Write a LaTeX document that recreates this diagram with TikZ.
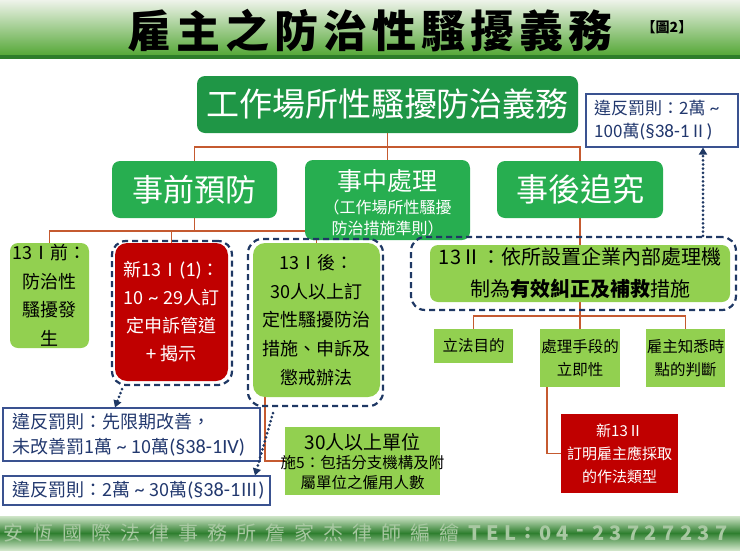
\documentclass[tikz,border=0pt]{standalone}
\usepackage{fontspec}
\setmainfont{Noto Sans CJK TC}
\newfontfamily\latfont[Scale=1.12]{Carlito}
\newcommand\latn[1]{{\latfont #1}}
\usetikzlibrary{arrows.meta,backgrounds}
\definecolor{topg}{HTML}{1F9646}
\definecolor{midg}{HTML}{27AE50}
\definecolor{lightg}{HTML}{92D050}
\definecolor{darkred}{HTML}{C00000}
\definecolor{navy}{HTML}{1F3864}
\definecolor{pentext}{HTML}{22386E}
\definecolor{penedge}{HTML}{3A5290}
\definecolor{conn}{HTML}{C55A30}
\definecolor{titletop}{HTML}{EEF3EA}
\definecolor{titlebot}{HTML}{56A838}
\definecolor{titleline}{HTML}{2E7D2A}
\definecolor{footlight}{HTML}{CFE5C8}
\definecolor{footdark}{HTML}{2F7F2F}
\definecolor{foottext}{HTML}{A8C8A2}
\tikzset{
  rbox/.style={rounded corners=8pt, inner sep=0pt, align=center},
  sbox/.style={inner sep=0pt, align=center},
  penbox/.style={draw=penedge, line width=1.1pt, fill=white, inner sep=0pt},
  pentxt/.style={anchor=west, inner sep=0pt, text=pentext, align=left},
  dashframe/.style={draw=navy, line width=2.2pt, dash pattern=on 6pt off 4pt, rounded corners=14pt, inner sep=0pt},
  connline/.style={draw=conn, line width=1.3pt},
  dotarr/.style={draw=navy, line width=3pt, dash pattern=on 0pt off 4.2pt, line cap=round, -{Triangle[length=7pt,width=8pt]}},
}
\begin{document}
\begin{tikzpicture}[x=1pt,y=-1pt]
\useasboundingbox (0,0) rectangle (740,555);
% title bar
\shade[top color=titletop, bottom color=titlebot] (0,0) rectangle (740,55);
\fill[titleline] (0,55) rectangle (740,59);
\foreach \c [count=\i from 0] in {雇,主,之,防,治,性,騷,擾,義,務}
  \node[font=\bfseries\fontsize{44}{44}\selectfont, inner sep=0pt] (t\i) at (149.5+49*\i,31) {\c};
\node[font=\bfseries\fontsize{14}{14}\selectfont, inner sep=0pt] (fig) at (667,27) {【圖2】};
% footer bar
\shade[top color=footlight, bottom color=footlight, middle color=footdark] (0,516) rectangle (740,550);
\foreach \c [count=\i from 0] in {安,恆,國,際,法,律,事,務,所,詹,家,杰,律,師,編,繪}
  \node[font=\fontsize{20}{20}\selectfont, text=foottext, inner sep=0pt] (f\i) at (14+29*\i,533) {\c};
\foreach \c [count=\i from 0] in {T,E,L,:,0,4,-,2,3,7,2,7,2,3,7}
  \node[font=\bfseries\fontsize{20}{20}\selectfont, text=foottext, inner sep=0pt] (g\i) at (475+17.6*\i,533) {\c};
% level 1
\node[rbox, fill=topg, text=white, minimum width=381pt, minimum height=57pt, font=\fontsize{33}{33}\selectfont] (top) at (387.5,104.5) {工作場所性騷擾防治義務};
\node[penbox, minimum width=152pt, minimum height=53pt] (pen0) at (662,120.5) {};
\node[pentxt, font=\fontsize{17}{23}\selectfont] (pen0t) at (594,120.5) {違反罰則：2萬\latn{ \textasciitilde}\\100萬\latn{(§38-1}Ⅱ\latn{)}};
% level 2
\node[rbox, fill=midg, text=white, minimum width=165pt, minimum height=57pt, font=\fontsize{31}{31}\selectfont] (pre) at (194.5,189.5) {事前預防};
\node[rbox, fill=midg, minimum width=165pt, minimum height=80pt] (mid) at (387.5,200) {};
\node[text=white, inner sep=0pt, font=\fontsize{25}{25}\selectfont] (midt1) at (387.5,181) {事中處理};
\node[text=white, inner sep=0pt, font=\fontsize{16}{16}\selectfont] (midt2) at (387.5,207) {（工作場所性騷擾};
\node[text=white, inner sep=0pt, font=\fontsize{16}{16}\selectfont] (midt3) at (387.5,228) {防治措施準則）};
\node[rbox, fill=midg, text=white, minimum width=166pt, minimum height=57pt, font=\fontsize{32}{32}\selectfont] (post) at (580,189.5) {事後追究};
% level 3
\node[rbox, fill=lightg, minimum width=79pt, minimum height=105pt, font=\fontsize{18}{28.5}\selectfont] (a13) at (49.5,295.5) {13Ⅰ前：\\防治性\\騷擾發\\生};
\node[rbox, fill=darkred, text=white, minimum width=113pt, minimum height=138pt, rounded corners=12pt, font=\fontsize{18}{28}\selectfont] (red1) at (171.5,312) {新13Ⅰ\latn{(1)}：\\10\latn{ \textasciitilde{} }29人訂\\定申訴管道\\\latn{+ }揭示};
\node[dashframe, minimum width=120pt, minimum height=144pt] (d1) at (172,313) {};
\node[rbox, fill=lightg, minimum width=127pt, minimum height=154pt, rounded corners=12pt, font=\fontsize{18}{28.75}\selectfont] (b13) at (316.5,320) {13Ⅰ後：\\30人以上訂\\定性騷擾防治\\措施、申訴及\\懲戒辦法};
\node[dashframe, minimum width=135pt, minimum height=167pt] (d2) at (315.5,322.5) {};
\node[rbox, fill=lightg, minimum width=300pt, minimum height=57pt, font=\fontsize{20}{32}\selectfont] (c13) at (580,273.5) {13Ⅱ：依所設置企業內部處理機\\制為{\bfseries 有效糾正及補救}措施};
\node[dashframe, minimum width=325pt, minimum height=73pt] (d3) at (573.5,273.5) {};
% level 4
\node[sbox, fill=lightg, minimum width=79pt, minimum height=34pt, font=\fontsize{15.5}{23}\selectfont] (s1) at (473.5,346) {立法目的};
\node[sbox, fill=lightg, minimum width=80pt, minimum height=58pt, font=\fontsize{15.5}{23}\selectfont] (s2) at (580,358) {處理手段的\\立即性};
\node[sbox, fill=lightg, minimum width=79pt, minimum height=58pt, font=\fontsize{15.5}{23}\selectfont] (s3) at (685.5,358) {雇主知悉時\\點的判斷};
\node[sbox, fill=darkred, text=white, minimum width=117pt, minimum height=79pt, font=\fontsize{15}{23}\selectfont] (red2) at (619.5,453.5) {新13Ⅱ\\訂明雇主應採取\\的作法類型};
% penalties and 30 persons
\node[penbox, minimum width=257pt, minimum height=53pt] (pen1) at (131.5,434.5) {};
\node[pentxt, font=\fontsize{18}{25}\selectfont] (pen1t) at (12,434.5) {違反罰則：先限期改善，\\未改善罰1萬\latn{ \textasciitilde{} }10萬\latn{(§38-1IV)}};
\node[penbox, minimum width=267pt, minimum height=29pt] (pen2) at (136.5,490.5) {};
\node[pentxt, font=\fontsize{18}{25}\selectfont] (pen2t) at (12,490.5) {違反罰則：2萬\latn{ \textasciitilde{} }30萬\latn{(§38-1}Ⅲ\latn{)}};
\node[sbox, fill=lightg, minimum width=155pt, minimum height=68pt] (b30) at (362.5,461) {};
\node[inner sep=0pt, font=\fontsize{19}{19}\selectfont] (b30t1) at (362.5,442) {30人以上單位};
\node[inner sep=0pt, font=\fontsize{15.5}{15.5}\selectfont] (b30t2) at (362.5,463) {施5：包括分支機構及附};
\node[inner sep=0pt, font=\fontsize{15.5}{15.5}\selectfont] (b30t3) at (362.5,483) {屬單位之僱用人數};
% connectors
\begin{scope}[on background layer]
\coordinate (j1) at (387.5,147);
\draw[connline] (pre.north) |- (j1) -| (post.north);
\draw[connline] (top.south) -- (mid.north);
\coordinate (j2) at (194.5,231);
\draw[connline] (pre.south) -- (j2);
\draw[connline] (a13.north) |- (j2) -| (b13.north);
\draw[connline] (red1.north) -- (red1.north |- j2);
\draw[connline] (post.south) -- (post.south |- c13.north);
\coordinate (j3) at (580,316);
\draw[connline] (c13.south) -- (j3);
\draw[connline] (s1.north) |- (j3) -| (s3.north);
\draw[connline] (j3) -- (s2.north);
\draw[connline] ([xshift=-33pt]s2.south) |- (red2.west);
\draw[connline] ([xshift=-51.5pt]b13.south) |- (b30.west);
\end{scope}
% dotted arrows
\draw[dotarr] ([xshift=-50pt,yshift=-3pt]d1.south) -- ([xshift=-16.5pt]pen1.north);
\draw[dotarr] ([xshift=-42.5pt,yshift=-6pt]d2.south) -- ([xshift=118.5pt]pen2.north);
\draw[dotarr] ([xshift=129.5pt]d3.north) -- ([xshift=41pt]pen0.south);
\end{tikzpicture}
\end{document}
